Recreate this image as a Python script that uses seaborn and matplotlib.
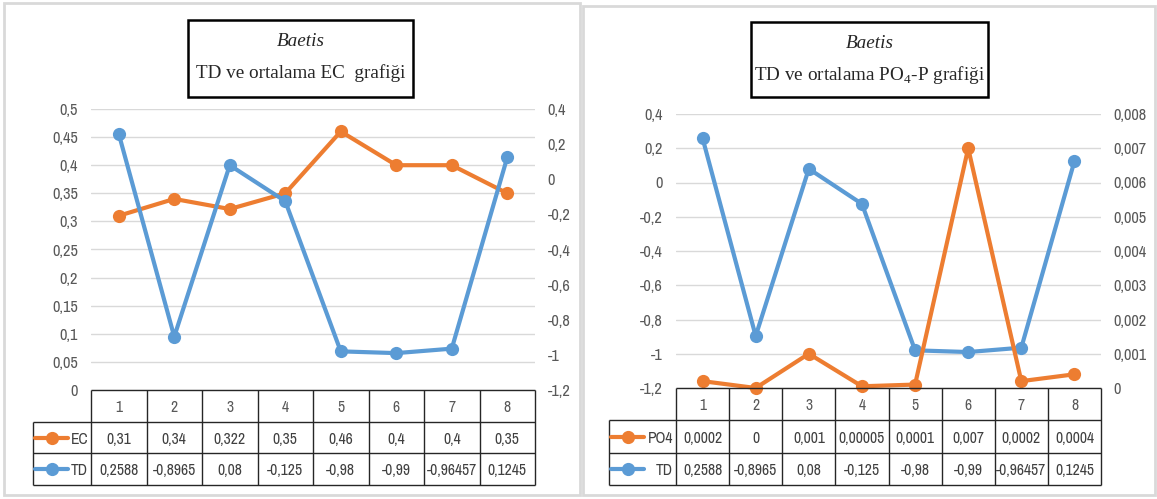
import matplotlib
matplotlib.use("Agg")
import matplotlib.pyplot as plt
import seaborn as sns
import numpy as np
from matplotlib.patches import Rectangle
from matplotlib.lines import Line2D
from matplotlib.ticker import FuncFormatter, MultipleLocator

# data
sites = [1, 2, 3, 4, 5, 6, 7, 8]
ec = [0.31, 0.34, 0.322, 0.35, 0.46, 0.4, 0.4, 0.35]
ec_txt = ["0,31", "0,34", "0,322", "0,35", "0,46", "0,4", "0,4", "0,35"]
po4 = [0.0002, 0, 0.001, 0.00005, 0.0001, 0.007, 0.0002, 0.0004]
po4_txt = ["0,0002", "0", "0,001", "0,00005", "0,0001", "0,007", "0,0002", "0,0004"]
td = [0.2588, -0.8965, 0.08, -0.125, -0.98, -0.99, -0.96457, 0.1245]
td_txt = ["0,2588", "-0,8965", "0,08", "-0,125", "-0,98", "-0,99", "-0,96457", "0,1245"]

ORANGE = "#ED7D31"
BLUE = "#5B9BD5"
GRID = "#D9D9D9"
TICK = "#595959"

sns.set_style("white")
plt.rcParams["font.family"] = ["Archivo Narrow", "Liberation Sans", "DejaVu Sans"]
plt.rcParams["mathtext.fontset"] = "custom"
plt.rcParams["mathtext.rm"] = "Liberation Serif"
SERIF = "Liberation Serif"

W, H = 1157, 499
fig = plt.figure(figsize=(W / 100, H / 100), dpi=100)
renderer = fig.canvas.get_renderer()


def fit_size(s, target_px, **kw):
    # font size that makes string s about target_px wide
    t = fig.text(0, 0, s, fontsize=10, **kw)
    w = t.get_window_extent(renderer).width
    t.remove()
    return 10 * target_px / w


TICK_FS = fit_size("0,008", 33)
CELL_FS = min(fit_size("0,2588", 40), fit_size("-0,96457", 50))
TITLE_FS = fit_size("TD ve ortalama EC  grafiği", 210, family=SERIF)


def px_axes(x0, y0, x1, y1):
    return fig.add_axes([x0 / W, 1 - y1 / H, (x1 - x0) / W, (y1 - y0) / H])


def comma(v, _):
    s = ("%.3f" % v).rstrip("0").rstrip(".")
    if s in ("-0", ""):
        s = "0"
    return s.replace(".", ",")


def style_axis(ax, pad):
    for sp in ax.spines.values():
        sp.set_visible(False)
    ax.tick_params(axis="both", length=0, labelsize=TICK_FS, colors=TICK, pad=pad)
    ax.set_xlabel("")
    ax.set_ylabel("")
    ax.yaxis.set_major_formatter(FuncFormatter(comma))
    ax.set_xticks([])


def series(ax, vals, col):
    sns.lineplot(x=sites, y=vals, ax=ax, color=col, marker="o", markersize=9.5,
                 markeredgewidth=0, linewidth=3, clip_on=False)


def panel(box, plot_px, table_px, left, right, rows, title_box, title2):
    # outer frame
    fig.patches.append(Rectangle((box[0] / W, 1 - box[3] / H), (box[2] - box[0]) / W,
                                 (box[3] - box[1]) / H, transform=fig.transFigure,
                                 fill=False, edgecolor=GRID, lw=2))
    ax = px_axes(*plot_px)
    lv, lcol, llim, lstep = left
    rv, rcol, rlim, rstep = right
    series(ax, lv, lcol)
    ax.set_xlim(0.5, 8.5)
    ax.set_ylim(*llim)
    ax.yaxis.set_major_locator(MultipleLocator(lstep))
    ax.grid(axis="y", color=GRID, lw=1)
    ax.set_axisbelow(True)
    style_axis(ax, 9.5)
    ax2 = ax.twinx()
    series(ax2, rv, rcol)
    ax2.set_ylim(*rlim)
    ax2.yaxis.set_major_locator(MultipleLocator(rstep))
    style_axis(ax2, 9)

    # data table underneath
    L, C, R, T, B = table_px
    unit = (R - C) / 8
    tx = px_axes(L, T, R, B)
    x_left = 0.5 - (C - L) / unit
    tx.set_xlim(x_left, 8.5)
    tx.set_ylim(0, 3)
    tx.axis("off")
    edges = np.arange(0.5, 9.5, 1)
    kw = dict(color="#262626", lw=1, clip_on=False)
    tx.vlines(edges, 0, 3, **kw)
    tx.vlines([x_left], 0, 2, **kw)
    tx.hlines([3], 0.5, 8.5, **kw)
    tx.hlines([0, 1, 2], x_left, 8.5, **kw)
    for x in sites:
        tx.text(x, 2.45, str(x), ha="center", va="center", fontsize=CELL_FS, color=TICK)
    for (name, col, txt), y in zip(rows, [1.45, 0.45]):
        for x, t in zip(sites, txt):
            tx.text(x, y, t, ha="center", va="center", fontsize=CELL_FS, color="#404040")
        sx0 = x_left + 2 / unit
        sx1 = x_left + 35 / unit
        tx.add_line(Line2D([sx0, sx1], [y + 0.05, y + 0.05], color=col, lw=3))
        tx.plot([(sx0 + sx1) / 2], [y + 0.05], "o", color=col, markersize=9.5, mew=0)
        tx.text(0.5 - 3 / unit, y, name, ha="right", va="center", fontsize=CELL_FS,
                color="#404040")

    # title box
    bx0, by0, bx1, by1 = title_box
    fig.patches.append(Rectangle((bx0 / W, 1 - by1 / H), (bx1 - bx0) / W, (by1 - by0) / H,
                                 transform=fig.transFigure, facecolor="white",
                                 edgecolor="black", lw=1.8, zorder=5))
    cx = (bx0 + bx1) / 2 / W
    fig.text(cx, 1 - (by0 + 21) / H, "Baetis", ha="center", va="center",
             family=SERIF, style="italic", fontsize=TITLE_FS, color="#262626", zorder=6)
    fig.text(cx, 1 - (by0 + 53) / H, title2, ha="center", va="center",
             family=SERIF, fontsize=TITLE_FS, color="#262626", zorder=6)


panel((4, 3, 580, 495), (91, 109, 535, 390), (33, 91, 535, 390, 485),
      (ec, ORANGE, (0, 0.5), 0.05),
      (td, BLUE, (-1.2, 0.4), 0.2),
      [("EC", ORANGE, ec_txt), ("TD", BLUE, td_txt)],
      (188, 20, 413, 97), "TD ve ortalama EC  grafiği")

panel((583, 6, 1155, 495), (676, 114, 1101, 388), (609, 676, 1101, 388, 485),
      (td, BLUE, (-1.2, 0.4), 0.2),
      (po4, ORANGE, (0, 0.008), 0.001),
      [("PO4", ORANGE, po4_txt), ("TD", BLUE, td_txt)],
      (751, 22, 988, 97), r"TD ve ortalama PO$_\mathrm{4}$-P grafiği")

fig.savefig("out.png", dpi=100)
